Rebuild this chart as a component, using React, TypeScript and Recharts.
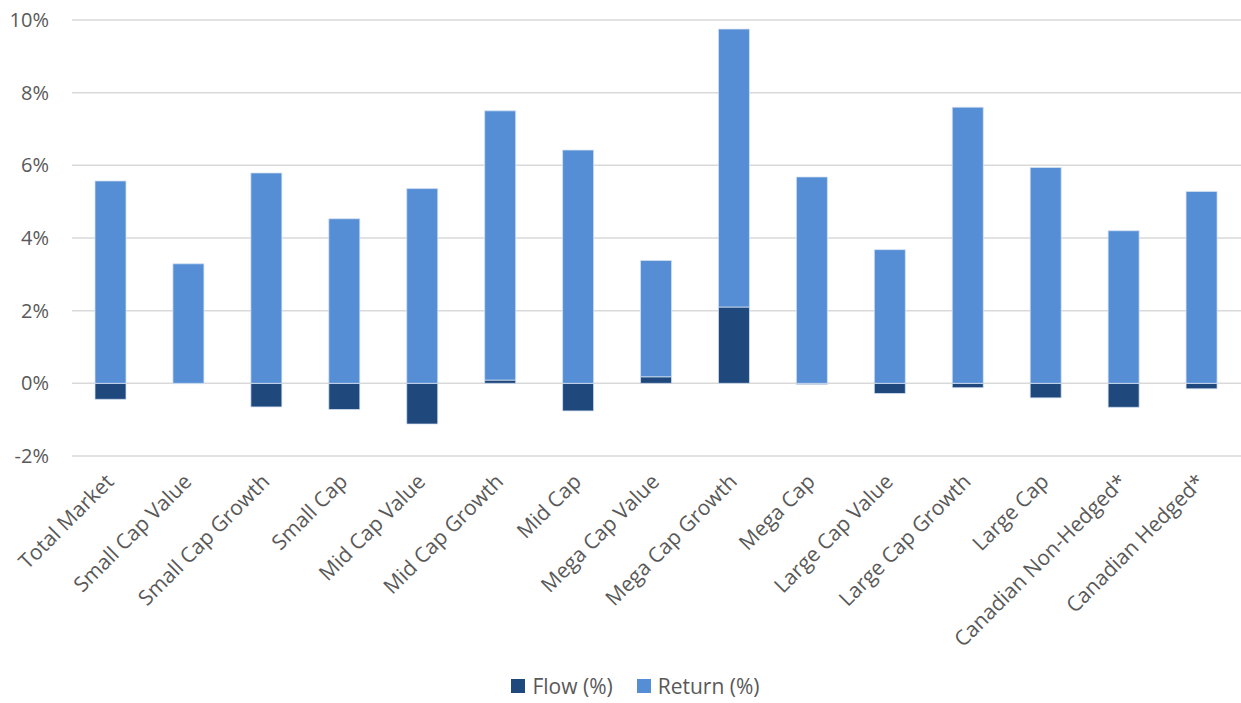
import { Bar, BarChart, CartesianGrid, Legend, XAxis, YAxis } from 'recharts';

const categories = [
  'Total Market',
  'Small Cap Value',
  'Small Cap Growth',
  'Small Cap',
  'Mid Cap Value',
  'Mid Cap Growth',
  'Mid Cap',
  'Mega Cap Value',
  'Mega Cap Growth',
  'Mega Cap',
  'Large Cap Value',
  'Large Cap Growth',
  'Large Cap',
  'Canadian Non-Hedged*',
  'Canadian Hedged*',
];

const flow = [-0.44, -0.01, -0.65, -0.72, -1.12, 0.09, -0.76, 0.18, 2.1, -0.03, -0.28, -0.12, -0.4, -0.66, -0.15];
const ret = [5.57, 3.29, 5.79, 4.53, 5.36, 7.41, 6.42, 3.2, 7.65, 5.68, 3.68, 7.6, 5.94, 4.2, 5.28];

const yTicks = [-2, 0, 2, 4, 6, 8, 10];

const FLOW_COLOR = '#1F497D';
const RETURN_COLOR = '#558ED5';
const TEXT = '#595959';
const FONT = '"Open Sans", "Noto Sans", sans-serif';

const data = categories.map((name, i) => ({ name, flow: flow[i], ret: ret[i] }));

function CategoryTick({ x, y, payload }: { x?: number; y?: number; payload?: { value: string } }) {
  if (!payload || x == null || y == null) return null;
  return (
    <text
      transform={`translate(${x + 4}, ${y + 25}) rotate(-45)`}
      textAnchor="end"
      fill={TEXT}
      fontSize={21}
      fontFamily={FONT}
    >
      {payload.value}
    </text>
  );
}

function LegendContent() {
  const items = [
    { label: 'Flow (%)', color: FLOW_COLOR },
    { label: 'Return (%)', color: RETURN_COLOR },
  ];
  return (
    <div
      style={{
        height: 40,
        display: 'flex',
        justifyContent: 'center',
        alignItems: 'flex-start',
        paddingTop: 9,
        paddingLeft: 30,
        boxSizing: 'border-box',
        fontFamily: FONT,
        fontSize: 21,
        color: TEXT,
      }}
    >
      {items.map((it) => (
        <div key={it.label} style={{ display: 'flex', alignItems: 'center', margin: '0 12px' }}>
          <span style={{ width: 14, height: 14, background: it.color, display: 'inline-block', marginRight: 7 }} />
          <span>{it.label}</span>
        </div>
      ))}
    </div>
  );
}

export default function App() {
  return (
    <div style={{ position: 'absolute', left: 0, top: 0, background: '#fff' }}>
      <BarChart
        width={1241}
        height={703}
        data={data}
        stackOffset="sign"
        margin={{ top: 20, right: 0, left: 0, bottom: 0 }}
      >
        <CartesianGrid vertical={false} stroke="#d9d9d9" strokeWidth={1.5} />
        <XAxis
          dataKey="name"
          axisLine={false}
          tickLine={false}
          tickSize={0}
          interval={0}
          height={207}
          tick={<CategoryTick />}
        />
        <YAxis
          domain={[-2, 10]}
          ticks={yTicks}
          axisLine={false}
          tickLine={false}
          tickSize={0}
          tickMargin={23}
          width={72}
          tickFormatter={(v: number) => `${v}%`}
          tick={{ fill: TEXT, fontSize: 20, fontFamily: FONT }}
        />
        <Legend verticalAlign="bottom" content={<LegendContent />} />
        <Bar
          dataKey="flow"
          name="Flow (%)"
          stackId="a"
          fill={FLOW_COLOR}
          stroke="#d6e2f3"
          strokeWidth={0.75}
          barSize={31}
          isAnimationActive={false}
        />
        <Bar
          dataKey="ret"
          name="Return (%)"
          stackId="a"
          fill={RETURN_COLOR}
          stroke="#d6e2f3"
          strokeWidth={0.75}
          barSize={31}
          isAnimationActive={false}
        />
      </BarChart>
    </div>
  );
}
